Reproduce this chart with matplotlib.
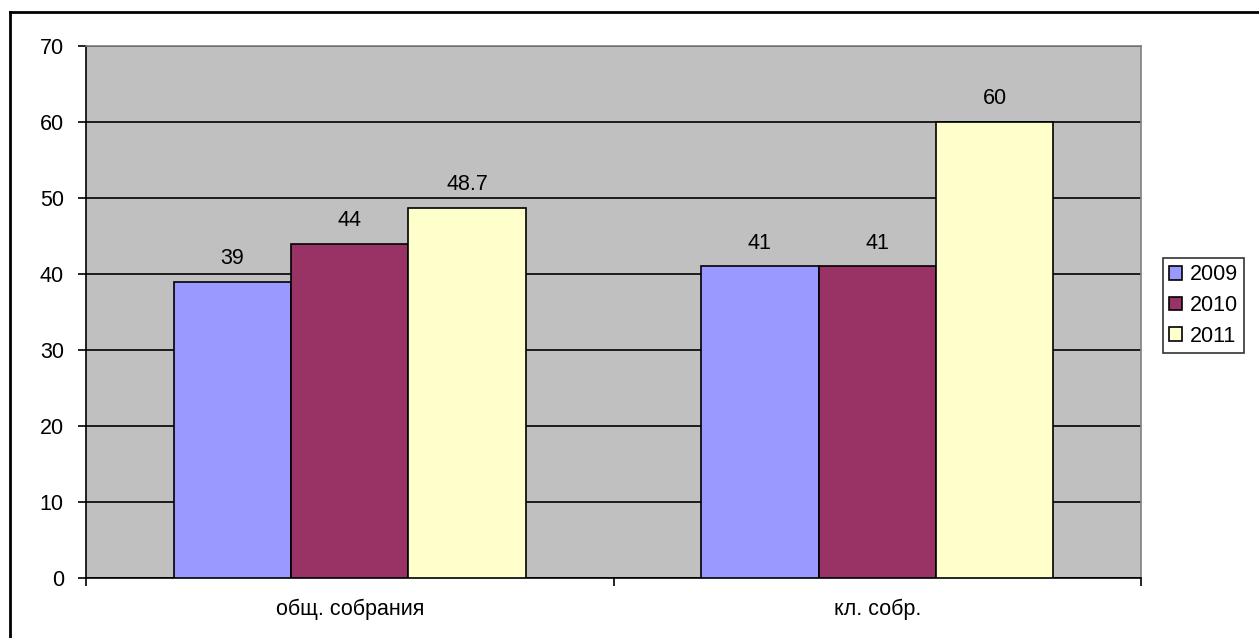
import numpy as np
import matplotlib
matplotlib.use("Agg")
from matplotlib import pyplot as plt
from matplotlib.lines import Line2D

plt.rcParams['font.family'] = ['Liberation Sans', 'DejaVu Sans']

categories = ['общ. собрания', 'кл. собр.']
years = ['2009', '2010', '2011']
values_2009 = [39, 41]
values_2010 = [44, 41]
values_2011 = [48.7, 60]
labels_2009 = ['39', '41']
labels_2010 = ['44', '41']
labels_2011 = ['48.7', '60']
colors = ['#9999FF', '#993366', '#FFFFCC']

fig = plt.figure(figsize=(12.59, 6.38), dpi=100)
W, H = 1259, 638
ax = fig.add_axes([86 / W, 1 - 578 / H, (1141 - 86) / W, (578 - 46) / H])
ax.set_facecolor('#C0C0C0')

x = np.arange(len(categories))
bw = 0.2225
series = [values_2009, values_2010, values_2011]
labels = [labels_2009, labels_2010, labels_2011]
for i, (vals, labs) in enumerate(zip(series, labels)):
    bars = ax.bar(x + (i - 1) * bw, vals, bw, color=colors[i], edgecolor='black',
                  linewidth=1.2, label=years[i], zorder=3)
    for b, t in zip(bars, labs):
        ax.annotate(t, (b.get_x() + b.get_width() / 2, b.get_height()),
                    xytext=(0, 9), textcoords='offset points', ha='center',
                    va='bottom', fontsize=15.5)

ax.set_xlim(-0.5, 1.5)
ax.set_ylim(0, 70)
ax.set_yticks(range(0, 71, 10))
ax.yaxis.grid(True, color='black', linewidth=1.2, zorder=1)
ax.set_axisbelow(True)
ax.set_xticks([-0.5, 0.5, 1.5], minor=False)
ax.set_xticklabels([])
ax.set_xticks(x, minor=True)
ax.set_xticklabels(categories, minor=True, fontsize=15.5)
ax.tick_params(axis='x', which='minor', length=0, pad=15)
ax.tick_params(axis='x', which='major', length=6, width=1.2, color='black')
ax.tick_params(axis='y', length=6, width=1.2, labelsize=15.5, pad=10)
for s in ['left', 'bottom']:
    ax.spines[s].set_color('black')
    ax.spines[s].set_linewidth(1.2)
for s in ['top', 'right']:
    ax.spines[s].set_color('#808080')
    ax.spines[s].set_linewidth(1.2)

leg = ax.legend(loc='upper left', bbox_to_anchor=(1163 / W, 1 - 258 / H),
                bbox_transform=fig.transFigure, fontsize=15.5, frameon=True,
                fancybox=False, edgecolor='black', handlelength=0.6,
                handleheight=0.6, handletextpad=0.35, labelspacing=0.45,
                borderpad=0.3, borderaxespad=0)
leg.get_frame().set_linewidth(1.2)
for h in leg.legend_handles:
    h.set_linewidth(1.2)

# outer frame of the chart
fig.add_artist(Line2D([10 / W, 10 / W], [0, 1 - 12 / H], color='black', lw=2,
                      transform=fig.transFigure))
fig.add_artist(Line2D([10 / W, 1], [1 - 12 / H, 1 - 12 / H], color='black', lw=2,
                      transform=fig.transFigure))

fig.savefig('out.png', dpi=100)
